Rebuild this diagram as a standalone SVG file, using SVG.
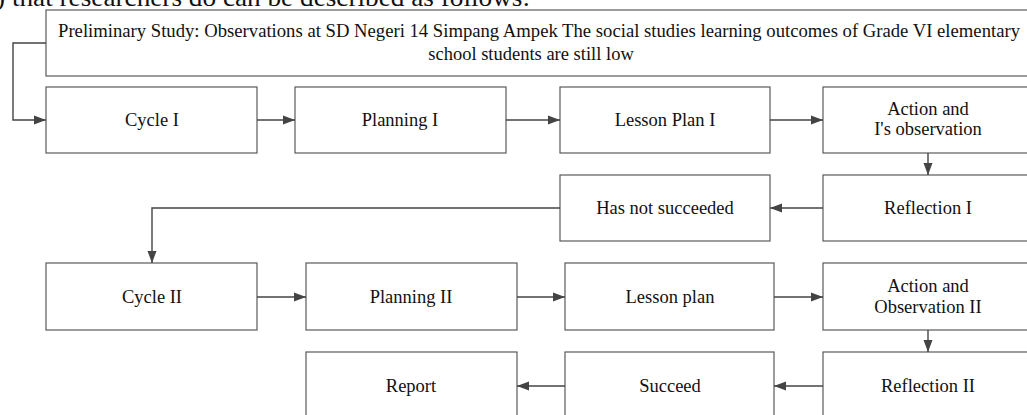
<svg xmlns="http://www.w3.org/2000/svg" width="1027" height="415" viewBox="0 0 1027 415">
<defs>
<style>
.box{fill:#fff;stroke:#5a5a5a;stroke-width:1.2}
.t{font-family:"Liberation Serif","Times New Roman",serif;font-size:18.5px;fill:#111;text-anchor:middle}
.top{font-family:"Liberation Serif","Times New Roman",serif;font-size:18.5px;fill:#111}
.c{fill:none;stroke:#444;stroke-width:1.4}
</style>
<marker id="ah" viewBox="0 0 12 10" refX="12" refY="5" markerWidth="12" markerHeight="10" markerUnits="userSpaceOnUse" orient="auto">
<path d="M0,0.5 L12,5 L0,9.5 z" fill="#444"/>
</marker>
</defs>
<rect width="1027" height="415" fill="#fff"/>
<text x="-4" y="6" font-family="Liberation Serif, serif" font-size="26" fill="#111" textLength="534" lengthAdjust="spacingAndGlyphs">) that researchers do can be described as follows:</text>
<g id="prelim"><rect class="box" x="46" y="10" width="1000" height="66"/>
<text class="top" x="58" y="37" textLength="962" lengthAdjust="spacingAndGlyphs">Preliminary Study: Observations at SD Negeri 14 Simpang Ampek The social studies learning outcomes of Grade VI elementary</text>
<text class="top" x="531" y="60" text-anchor="middle">school students are still low</text></g>
<g id="cycle1"><rect class="box" x="46" y="87" width="211" height="66"/><text class="t" x="152" y="126">Cycle I</text></g>
<g id="planning1"><rect class="box" x="295" y="87" width="211" height="66"/><text class="t" x="400" y="126">Planning I</text></g>
<g id="lessonplan1"><rect class="box" x="560" y="87" width="210" height="66"/><text class="t" x="665" y="126">Lesson Plan I</text></g>
<g id="action1"><rect class="box" x="823" y="87" width="210" height="66"/><text class="t" x="928" y="115">Action and</text><text class="t" x="928" y="135">I's observation</text></g>
<g id="notsucceeded"><rect class="box" x="560" y="175" width="210" height="66"/><text class="t" x="665" y="214">Has not succeeded</text></g>
<g id="reflection1"><rect class="box" x="823" y="175" width="210" height="66"/><text class="t" x="928" y="214">Reflection I</text></g>
<g id="cycle2"><rect class="box" x="46" y="263" width="211" height="67"/><text class="t" x="152" y="303">Cycle II</text></g>
<g id="planning2"><rect class="box" x="306" y="263" width="211" height="67"/><text class="t" x="411" y="303">Planning II</text></g>
<g id="lessonplan2"><rect class="box" x="565" y="263" width="209" height="67"/><text class="t" x="670" y="303">Lesson plan</text></g>
<g id="action2"><rect class="box" x="823" y="263" width="210" height="67"/><text class="t" x="928" y="292">Action and</text><text class="t" x="928" y="313">Observation II</text></g>
<g id="report"><rect class="box" x="306" y="352" width="211" height="70"/><text class="t" x="411" y="392">Report</text></g>
<g id="succeed"><rect class="box" x="565" y="352" width="209" height="70"/><text class="t" x="670" y="392">Succeed</text></g>
<g id="reflection2"><rect class="box" x="823" y="352" width="210" height="70"/><text class="t" x="928" y="392">Reflection II</text></g>
<g id="connectors">
<path class="c" d="M46,43 H13 V120 H46" marker-end="url(#ah)"/>
<path class="c" d="M257,120 H295" marker-end="url(#ah)"/>
<path class="c" d="M506,120 H560" marker-end="url(#ah)"/>
<path class="c" d="M770,120 H823" marker-end="url(#ah)"/>
<path class="c" d="M928,153 V175" marker-end="url(#ah)"/>
<path class="c" d="M823,208 H770" marker-end="url(#ah)"/>
<path class="c" d="M560,208 H152 V263" marker-end="url(#ah)"/>
<path class="c" d="M257,297 H306" marker-end="url(#ah)"/>
<path class="c" d="M517,297 H565" marker-end="url(#ah)"/>
<path class="c" d="M774,297 H823" marker-end="url(#ah)"/>
<path class="c" d="M928,330 V352" marker-end="url(#ah)"/>
<path class="c" d="M823,386 H774" marker-end="url(#ah)"/>
<path class="c" d="M565,386 H517" marker-end="url(#ah)"/>
</g>
</svg>
